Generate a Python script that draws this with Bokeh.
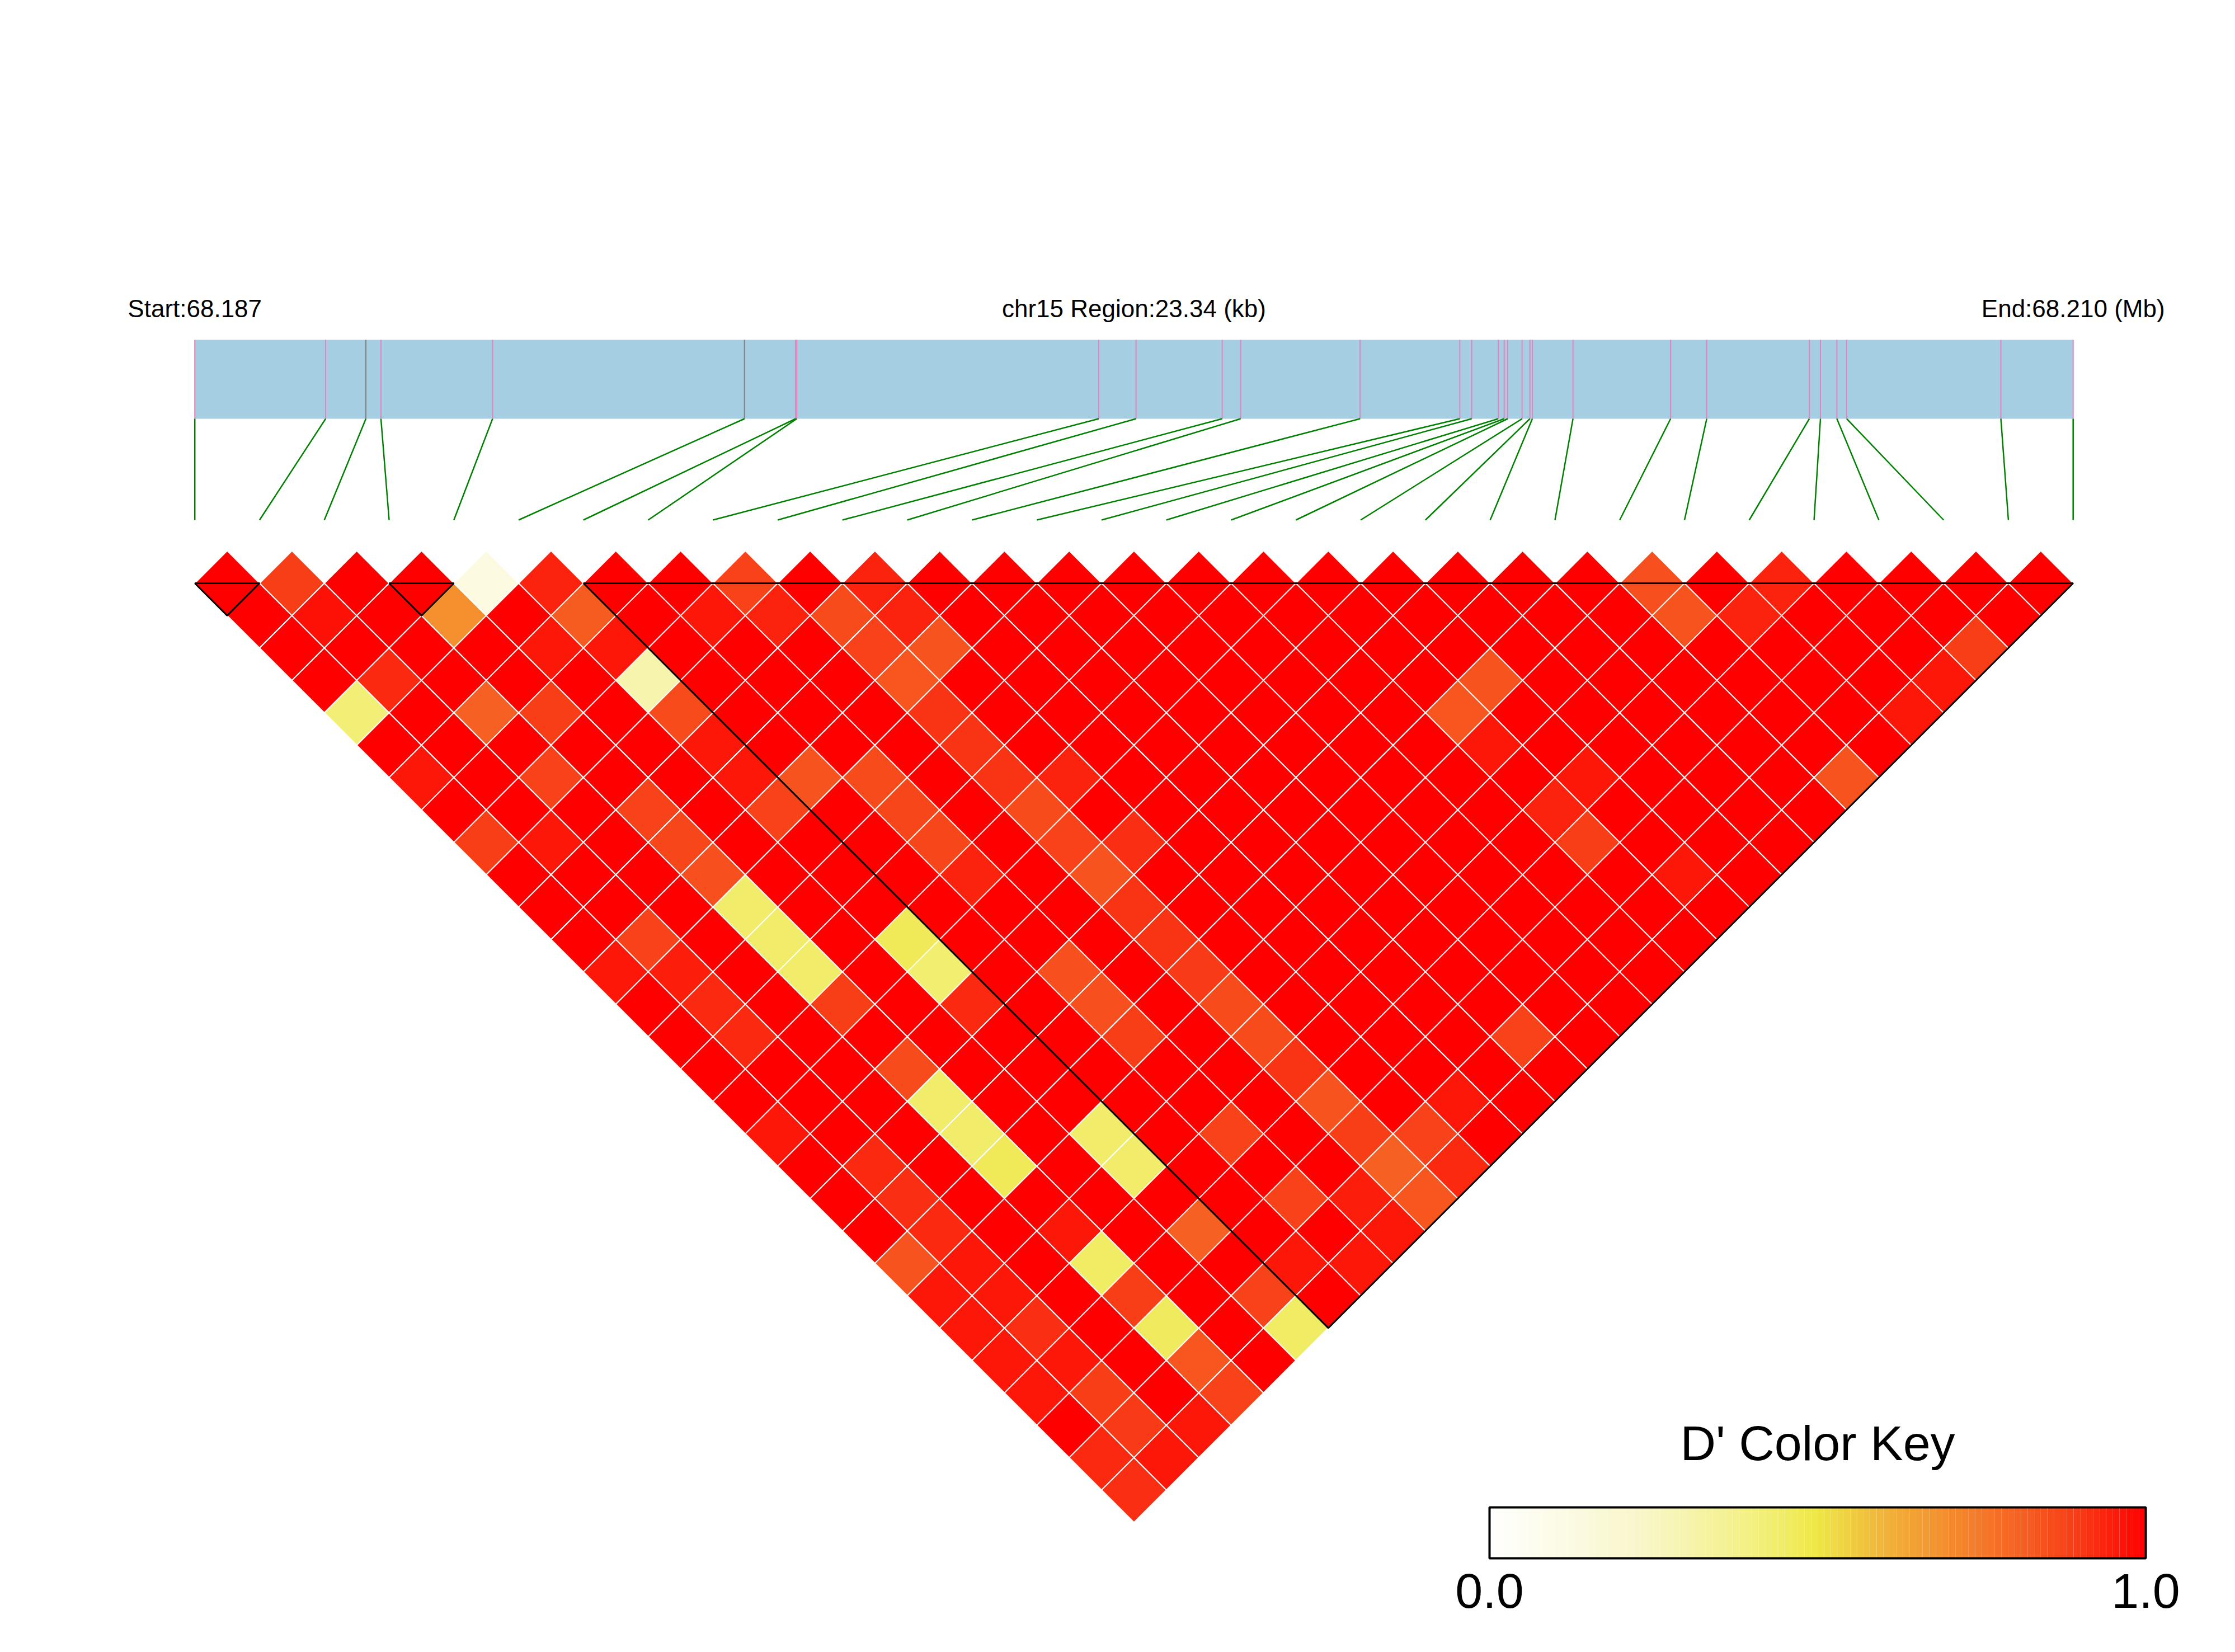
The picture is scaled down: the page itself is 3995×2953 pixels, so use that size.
from bokeh.plotting import figure
from bokeh.models import Range1d
from bokeh.embed import file_html
from bokeh.resources import INLINE
from bokeh.core.properties import value

# ---------------- data ----------------
chrom = "chr15"
snp_pos = [68186980, 68188606, 68189106, 68189293, 68190680, 68193810, 68194446,
           68194460, 68198212, 68198676, 68199746, 68199976, 68201460, 68202699,
           68202847, 68203177, 68203250, 68203294, 68203473, 68203570, 68203600,
           68204105, 68205318, 68205767, 68207042, 68207180, 68207384, 68207506,
           68209422, 68210320]
snp_grey = [0, 0, 1, 0, 0, 1, 0, 0, 0, 0, 0, 0, 0, 0, 0, 0, 0, 0, 0, 0, 0, 0, 0, 0, 0, 0, 0, 0, 0, 0]

# D' of SNP i with SNPs i+1 .. 29
dprime_rows = [
    [1, 1, 1, 1, .42, 1, .96, 1, .89, 1, 1, 1, .96, 1, 1, 1, 1, .96, 1, 1, 1, .84, .96, .96, .96, .96, 1, .93, .92],
    [.89, .97, 1, .93, 1, 1, 1, 1, .96, 1, 1, .88, .95, .93, .93, 1, 1, 1, .93, .92, .93, .96, .96, .92, .96, .89, .90, .96],
    [1, 1, 1, 1, .81, 1, .88, 1, 1, 1, 1, 1, 1, 1, 1, 1, 1, 1, 1, 1, 1, 1, 1, 1, 1, 1, .96],
    [1, .69, 1, 1, .89, 1, 1, .88, .87, .85, .44, .44, .44, .89, 1, .86, .44, .44, .47, 1, .96, .45, .89, .46, .83, .88],
    [.12, 1, .96, 1, 1, 1, 1, 1, 1, 1, 1, 1, 1, 1, 1, 1, 1, 1, 1, 1, 1, 1, 1, 1, 1],
    [.94, .82, .96, .30, .86, .96, .96, .88, 1, 1, 1, .47, .43, .93, 1, 1, 1, .44, .44, 1, .81, 1, .88, .45],
    [1, 1, 1, 1, 1, 1, .84, 1, 1, 1, 1, 1, 1, 1, 1, 1, 1, 1, 1, 1, 1, .96, 1],
    [1, .96, 1, 1, 1, 1, .86, .87, .87, .94, 1, 1, .85, .85, .89, 1, 1, .88, 1, .88, 1, .96],
    [.88, .94, 1, 1, 1, 1, 1, 1, 1, 1, 1, 1, 1, 1, 1, 1, 1, 1, 1, .95, .96],
    [1, .86, .88, .83, .91, .91, .91, .86, .88, .84, .91, .91, .90, .86, .86, .91, .84, .89, .81, .83],
    [.94, .94, .84, 1, 1, 1, .94, 1, .92, 1, 1, 1, 1, 1, 1, 1, 1, .88, .93],
    [1, 1, 1, 1, 1, 1, 1, 1, 1, 1, 1, 1, 1, 1, 1, 1, .96, 1],
    [1, 1, 1, 1, 1, 1, 1, 1, 1, 1, 1, 1, 1, 1, 1, 1, 1],
    [1, 1, 1, 1, 1, 1, 1, 1, 1, 1, 1, 1, 1, 1, .88, 1],
    [1, 1, 1, 1, 1, 1, 1, 1, 1, 1, 1, 1, 1, 1, 1],
    [1, 1, 1, 1, 1, 1, 1, 1, 1, 1, 1, 1, 1, 1],
    [1, 1, 1, 1, 1, 1, 1, 1, 1, 1, 1, 1, 1],
    [1, 1, 1, 1, .83, .96, 1, .94, .89, 1, 1, 1],
    [1, 1, 1, .84, 1, 1, .96, 1, 1, .96, 1],
    [1, 1, 1, 1, 1, 1, 1, 1, 1, 1],
    [1, 1, 1, 1, 1, 1, 1, 1, 1],
    [1, 1, 1, 1, 1, 1, 1, 1],
    [.85, .84, 1, 1, 1, 1, .84],
    [1, .94, 1, 1, 1, 1],
    [.94, 1, 1, 1, .96],
    [1, 1, 1, .96],
    [1, 1, .89],
    [1, 1],
    [1],
]
block_first = [0, 3, 6]
block_last = [1, 4, 29]
key_title = "D' Color Key"
key_ticks = [0.0, 1.0]
key_labels = ["0.0", "1.0"]

for _i, _r in enumerate(dprime_rows):
    assert len(_r) == len(snp_pos) - 1 - _i, (_i, len(_r))

# ---------------- layout (pixels of the page) ----------------
W, H = 3979, 2937
X_FIRST, X_LAST = 347.7, 3705.2
ROW1_Y = 1042.0
BAR_TOP, BAR_BOT = 607.0, 748.0
LINK_BOT = 929.0
LABEL_Y = 565.0
KEY_L, KEY_R, KEY_T, KEY_B = 2662.0, 3835.0, 2694.0, 2785.0
KEY_TITLE_Y, KEY_LABEL_Y = 2607.0, 2872.0
FONT = "Liberation Sans"
BASE_FIX = 0.32  # em, baseline correction for the renderer

n = len(snp_pos)
step = (X_LAST - X_FIRST) / (n - 1)
half = step / 2.0


def sx(idx):
    return X_FIRST + idx * step


def gx(pos):
    return X_FIRST + (pos - snp_pos[0]) / (snp_pos[-1] - snp_pos[0]) * (X_LAST - X_FIRST)


stops = [(0.0, (255, 255, 255)), (0.25, (248, 246, 195)), (0.40, (243, 240, 130)),
         (0.50, (238, 232, 70)), (0.60, (240, 180, 58)), (0.70, (244, 140, 45)),
         (0.80, (246, 100, 35)), (0.90, (248, 58, 22)), (1.0, (255, 0, 0))]


def dcolor(v):
    v = max(0.0, min(1.0, v))
    for (a, ca), (b, cb) in zip(stops[:-1], stops[1:]):
        if a <= v <= b:
            t = (v - a) / (b - a) if b > a else 0
            c = [round(ca[k] + (cb[k] - ca[k]) * t) for k in range(3)]
            return "#%02x%02x%02x" % tuple(c)
    return "#ff0000"


p = figure(width=W, height=H, x_range=Range1d(0, W), y_range=Range1d(-H, 0),
           output_backend="svg", toolbar_location=None, min_border=0,
           x_axis_location=None, y_axis_location=None)
p.grid.visible = False
p.outline_line_color = None
p.background_fill_color = "white"
p.border_fill_color = "white"

# ---- gene bar with SNP markers ----
p.quad(left=[gx(snp_pos[0])], right=[gx(snp_pos[-1])], top=[-BAR_TOP], bottom=[-BAR_BOT],
       fill_color="#A6CEE3", line_color=None)
gxs = [gx(v) for v in snp_pos]
mcol = ["#808080" if g else "#E283BE" for g in snp_grey]
p.segment(x0=gxs, y0=[-BAR_TOP] * n, x1=gxs, y1=[-BAR_BOT] * n, line_color=mcol, line_width=2)
p.segment(x0=gxs, y0=[-BAR_BOT] * n, x1=[sx(i) for i in range(n)], y1=[-LINK_BOT] * n,
          line_color="#008000", line_width=2.5)

# ---- header texts ----
start_txt = "Start:%.3f" % (snp_pos[0] / 1e6)
end_txt = "End:%.3f (Mb)" % (snp_pos[-1] / 1e6)
reg_txt = "%s Region:%.2f (kb)" % (chrom, (snp_pos[-1] - snp_pos[0]) / 1000.0)
p.text(x=[gxs[0], (gxs[0] + gxs[-1]) / 2, gxs[-1]], y=[-(LABEL_Y - BASE_FIX * 44)] * 3,
       text=[start_txt, reg_txt, end_txt], text_align="center", text_baseline="alphabetic",
       text_font=value(FONT), text_font_size="44px", text_color="black")

# ---- LD heatmap ----
xs, ys, cols = [], [], []
for i, row in enumerate(dprime_rows):
    for off, v in enumerate(row):
        j = i + 1 + off
        cx = (sx(i) + sx(j)) / 2.0
        cy = -(ROW1_Y + (j - i - 1) * half)
        xs.append([cx, cx + half, cx, cx - half])
        ys.append([cy + half, cy, cy - half, cy])
        cols.append(dcolor(v))
p.patches(xs, ys, fill_color=cols, line_color="white", line_width=2)

# ---- LD blocks ----
bx, by = [], []
for a, b in zip(block_first, block_last):
    xa, xb = sx(a), sx(b)
    bx.append([xa, xb, (xa + xb) / 2.0, xa])
    by.append([-ROW1_Y, -ROW1_Y, -(ROW1_Y + (xb - xa) / 2.0), -ROW1_Y])
p.multi_line(bx, by, line_color="black", line_width=3)

# ---- colour key ----
ns = 100
kw = (KEY_R - KEY_L) / ns
p.quad(left=[KEY_L + k * kw for k in range(ns)], right=[KEY_L + (k + 1) * kw for k in range(ns)],
       top=[-KEY_T] * ns, bottom=[-KEY_B] * ns,
       fill_color=[dcolor((k + 0.5) / ns) for k in range(ns)], line_color=None)
p.quad(left=[KEY_L], right=[KEY_R], top=[-KEY_T], bottom=[-KEY_B], fill_color=None,
       line_color="black", line_width=4)
p.text(x=[(KEY_L + KEY_R) / 2], y=[-(KEY_TITLE_Y - BASE_FIX * 88)], text=[key_title],
       text_align="center", text_baseline="alphabetic", text_font=value(FONT),
       text_font_size="88px", text_color="black")
p.text(x=[KEY_L + t * (KEY_R - KEY_L) for t in key_ticks],
       y=[-(KEY_LABEL_Y - BASE_FIX * 88)] * len(key_ticks),
       text=key_labels, text_align="center", text_baseline="alphabetic",
       text_font=value(FONT), text_font_size="88px", text_color="black")

open("out.html", "w").write(file_html(p, INLINE))
